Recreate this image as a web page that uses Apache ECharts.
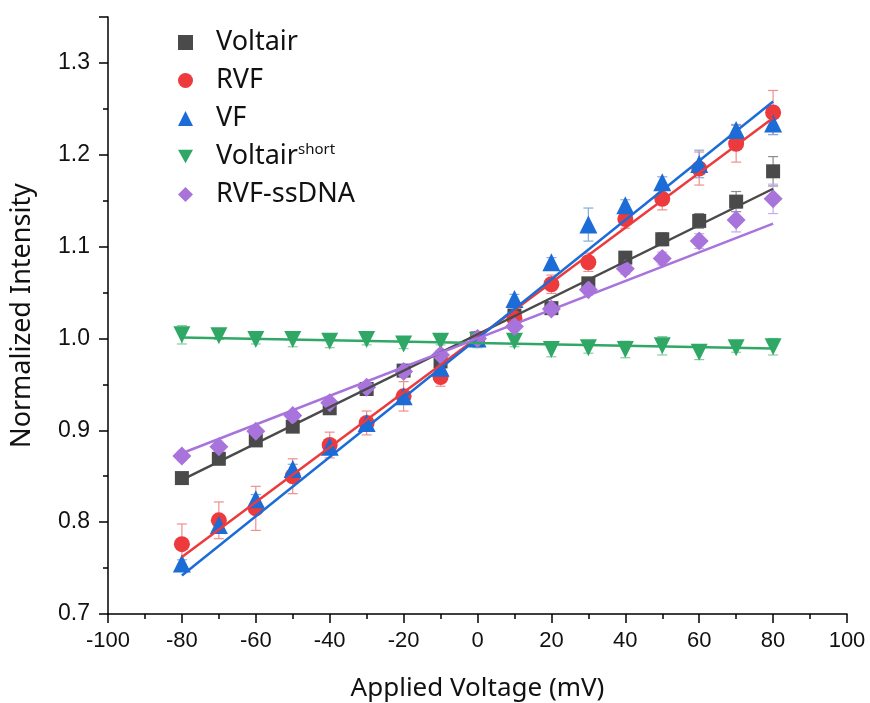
<!DOCTYPE html>
<html>
<head>
<meta charset="utf-8">
<script src="https://cdn.jsdelivr.net/npm/echarts@6/dist/echarts.min.js"></script>
<style>
  html, body { margin: 0; padding: 0; background: #fff; }
  #main { width: 870px; height: 703px; }
</style>
</head>
<body>
<div id="main"></div>
<script>
// applied voltage (mV)
var voltage = [-80, -70, -60, -50, -40, -30, -20, -10, 0, 10, 20, 30, 40, 50, 60, 70, 80];

// normalized intensity
var voltair      = [0.848, 0.869, 0.889, 0.904, 0.924, 0.945, 0.965, 0.975, 1.000, 1.025, 1.033, 1.060, 1.088, 1.108, 1.128, 1.149, 1.182];
var voltairErr   = [0.006, 0.005, 0.005, 0.005, 0.005, 0.005, 0.005, 0.005, 0.004, 0.005, 0.006, 0.006, 0.006, 0.007, 0.008, 0.011, 0.016];
var rvf          = [0.776, 0.802, 0.815, 0.850, 0.884, 0.908, 0.937, 0.958, 1.000, 1.022, 1.059, 1.083, 1.130, 1.152, 1.185, 1.212, 1.246];
var rvfErr       = [0.022, 0.020, 0.024, 0.019, 0.014, 0.013, 0.016, 0.010, 0.005, 0.008, 0.010, 0.010, 0.010, 0.012, 0.018, 0.020, 0.024];
var vf           = [0.755, 0.797, 0.825, 0.858, 0.882, 0.908, 0.937, 0.968, 1.000, 1.043, 1.083, 1.124, 1.145, 1.170, 1.190, 1.227, 1.234];
var vfErr        = [0.004, 0.004, 0.005, 0.005, 0.005, 0.005, 0.005, 0.005, 0.004, 0.005, 0.005, 0.018, 0.006, 0.006, 0.015, 0.006, 0.012];
var voltairShort = [1.004, 1.003, 0.999, 0.999, 0.997, 0.999, 0.994, 0.997, 0.998, 0.997, 0.988, 0.990, 0.988, 0.992, 0.985, 0.990, 0.991];
var shortErr     = [0.010, 0.004, 0.005, 0.008, 0.007, 0.006, 0.005, 0.004, 0.008, 0.006, 0.008, 0.006, 0.009, 0.010, 0.008, 0.005, 0.009];
var rvfDna       = [0.872, 0.882, 0.899, 0.916, 0.930, 0.947, 0.964, 0.982, 1.000, 1.013, 1.032, 1.053, 1.076, 1.087, 1.106, 1.129, 1.152];
var rvfDnaErr    = [0.005, 0.004, 0.004, 0.004, 0.004, 0.004, 0.005, 0.005, 0.004, 0.005, 0.005, 0.006, 0.006, 0.007, 0.008, 0.013, 0.016];

// linear fits: value at -80 and at 80 mV
var fitX          = [-80, 80];
var voltairFit    = [0.846, 1.163];
var rvfFit        = [0.762, 1.240];
var vfFit         = [0.742, 1.258];
var shortFit      = [1.001, 0.989];
var rvfDnaFit     = [0.875, 1.125];

var xTicks = [-100, -80, -60, -40, -20, 0, 20, 40, 60, 80, 100];
var yTicks = [0.7, 0.8, 0.9, 1.0, 1.1, 1.2, 1.3];

var groups = [
  { name: 'Voltair',      y: voltair,      err: voltairErr, fit: voltairFit, color: '#4a4a4a', bar: '#8c8c8c', symbol: 'rect', size: 14 },
  { name: 'RVF',          y: rvf,          err: rvfErr,     fit: rvfFit,     color: '#ec3a3d', bar: '#f08e8e', symbol: 'circle', size: 16 },
  { name: 'VF',           y: vf,           err: vfErr,      fit: vfFit,      color: '#1c6cd8', bar: '#86a9e2', symbol: 'triangle', size: 18 },
  { name: 'Voltairshort', y: voltairShort, err: shortErr,   fit: shortFit,   color: '#2fa865', bar: '#86cca2', symbol: 'path://M0,0L10,0L5,9Z', size: 17 },
  { name: 'RVF-ssDNA',    y: rvfDna,       err: rvfDnaErr,  fit: rvfDnaFit,  color: '#a874dc', bar: '#c8aaee', symbol: 'diamond', size: 19 }
];

function errorBars(g) {
  var data = voltage.map(function (v, i) { return [v, g.y[i] - g.err[i], g.y[i] + g.err[i]]; });
  return {
    type: 'custom',
    name: g.name + ' err',
    z: 1,
    silent: true,
    data: data,
    encode: { x: 0, y: [1, 2] },
    renderItem: function (params, api) {
      var lo = api.coord([api.value(0), api.value(1)]);
      var hi = api.coord([api.value(0), api.value(2)]);
      var w = 5;
      var st = { stroke: g.bar, lineWidth: 1.2 };
      return {
        type: 'group',
        children: [
          { type: 'line', shape: { x1: lo[0], y1: lo[1], x2: hi[0], y2: hi[1] }, style: st },
          { type: 'line', shape: { x1: lo[0] - w, y1: lo[1], x2: lo[0] + w, y2: lo[1] }, style: st },
          { type: 'line', shape: { x1: hi[0] - w, y1: hi[1], x2: hi[0] + w, y2: hi[1] }, style: st }
        ]
      };
    }
  };
}

var series = [];
groups.forEach(function (g) {
  series.push(errorBars(g));
  series.push({
    type: 'scatter',
    name: g.name,
    z: 2,
    symbol: g.symbol,
    symbolSize: g.size,
    itemStyle: { color: g.color, opacity: 1 },
    data: voltage.map(function (v, i) { return [v, g.y[i]]; })
  });
});
groups.forEach(function (g) {
  series.push({
    type: 'line',
    name: g.name + ' fit',
    z: 3,
    symbol: 'none',
    silent: true,
    lineStyle: { color: g.color, width: 2.5 },
    data: fitX.map(function (v, i) { return [v, g.fit[i]]; })
  });
});

var chart = echarts.init(document.getElementById('main'));
chart.setOption({
  animation: false,
  backgroundColor: '#fff',
  grid: { left: 108, right: 23, top: 17, bottom: 89, outerBoundsMode: 'none' },
  legend: {
    data: groups.map(function (g) { return g.name; }),
    orient: 'vertical',
    left: 173,
    top: 23,
    itemWidth: 15,
    itemHeight: 15,
    itemGap: 9,
    selectedMode: false,
    textStyle: {
      fontFamily: 'Noto Sans',
      fontSize: 27,
      lineHeight: 29,
      color: '#111',
      padding: [0, 0, 0, 18],
      rich: {
        base: { fontFamily: 'Noto Sans', fontSize: 27, lineHeight: 29, color: '#111' },
        sup: { fontFamily: 'Noto Sans', fontSize: 15, color: '#111', verticalAlign: 'top', padding: [0, 0, 12, 0] }
      }
    },
    formatter: function (name) {
      if (name === 'Voltairshort') return '{base|Voltair}{sup|short}';
      return name;
    }
  },
  xAxis: {
    type: 'value',
    min: xTicks[0],
    max: xTicks[xTicks.length - 1],
    interval: 20,
    name: 'Applied Voltage (mV)',
    nameLocation: 'middle',
    nameGap: 62,
    nameTextStyle: { fontFamily: 'Noto Sans', fontSize: 26, color: '#111' },
    axisLine: { onZero: false, lineStyle: { color: '#000', width: 1.5 } },
    axisTick: { length: 9, lineStyle: { color: '#000', width: 1.5 } },
    minorTick: { show: true, splitNumber: 2, length: 5, lineStyle: { color: '#000', width: 1.5 } },
    splitLine: { show: false },
    axisLabel: { fontFamily: 'Liberation Sans', fontSize: 22, color: '#111', margin: 16 }
  },
  yAxis: {
    type: 'value',
    min: yTicks[0],
    max: 1.35,
    interval: 0.1,
    name: 'Normalized Intensity',
    nameLocation: 'middle',
    nameGap: 72,
    nameTextStyle: { fontFamily: 'Noto Sans', fontSize: 27, color: '#111' },
    axisLine: { show: true, onZero: false, lineStyle: { color: '#000', width: 1.5 } },
    axisTick: { length: 9, lineStyle: { color: '#000', width: 1.5 } },
    minorTick: { show: true, splitNumber: 2, length: 5, lineStyle: { color: '#000', width: 1.5 } },
    splitLine: { show: false },
    axisLabel: {
      fontFamily: 'Liberation Sans', fontSize: 23, color: '#111', margin: 18,
      formatter: function (v) {
        var hit = yTicks.some(function (t) { return Math.abs(t - v) < 1e-6; });
        return hit ? v.toFixed(1) : '';
      }
    }
  },
  series: series
});
</script>
</body>
</html>
